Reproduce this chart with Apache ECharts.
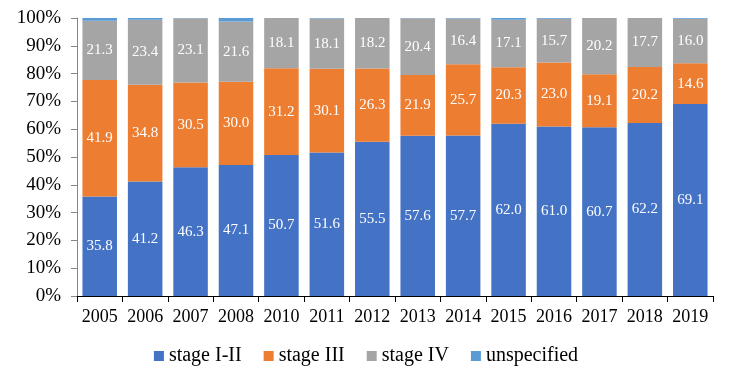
<!DOCTYPE html>
<html>
<head>
<meta charset="utf-8">
<script src="https://cdn.jsdelivr.net/npm/echarts@6/dist/echarts.min.js"></script>
<style>
html, body { margin: 0; padding: 0; background: #fff; }
#chart { width: 732px; height: 376px; }
</style>
</head>
<body>
<div id="chart"></div>
<script>
var years = ['2005', '2006', '2007', '2008', '2010', '2011', '2012', '2013', '2014', '2015', '2016', '2017', '2018', '2019'];
var stage12 = [35.8, 41.2, 46.3, 47.1, 50.7, 51.6, 55.5, 57.6, 57.7, 62.0, 61.0, 60.7, 62.2, 69.1];
var stage3 = [41.9, 34.8, 30.5, 30.0, 31.2, 30.1, 26.3, 21.9, 25.7, 20.3, 23.0, 19.1, 20.2, 14.6];
var stage4 = [21.3, 23.4, 23.1, 21.6, 18.1, 18.1, 18.2, 20.4, 16.4, 17.1, 15.7, 20.2, 17.7, 16.0];
var unspec = [1.0, 0.6, 0.1, 1.3, 0, 0.2, 0, 0.1, 0.2, 0.6, 0.3, 0, 0, 0.3];

var font = 'Liberation Serif';

function bar(name, data, color, showLabel) {
	return {
		name: name,
		type: 'bar',
		stack: 'total',
		barCategoryGap: '24%',
		data: data,
		itemStyle: { color: color },
		label: {
			show: showLabel,
			position: 'inside',
			color: '#fff',
			fontFamily: font,
			fontSize: 15,
			formatter: function (p) { return p.value.toFixed(1); }
		}
	};
}

var chart = echarts.init(document.getElementById('chart'));
chart.setOption({
	animation: false,
	textStyle: { fontFamily: font },
	grid: { left: 77, right: 19, top: 18, bottom: 80 },
	legend: {
		top: 341,
		left: 'center',
		itemWidth: 10,
		itemHeight: 10,
		itemGap: 22,
		icon: 'rect',
		textStyle: { fontFamily: font, fontSize: 20, color: '#000' },
		data: ['stage I-II', 'stage III', 'stage IV', 'unspecified']
	},
	xAxis: {
		type: 'category',
		data: years,
		axisLine: { lineStyle: { color: '#000' } },
		axisTick: { show: true, length: 6, lineStyle: { color: '#000' } },
		axisLabel: { color: '#000', fontSize: 18, fontFamily: font, margin: 12, interval: 0, hideOverlap: false }
	},
	yAxis: {
		type: 'value',
		min: 0,
		max: 100,
		interval: 10,
		splitLine: { show: false },
		axisLine: { show: true, lineStyle: { color: '#868686' } },
		axisTick: { show: true, length: 6, lineStyle: { color: '#868686' } },
		axisLabel: { color: '#000', fontSize: 19, fontFamily: font, margin: 16, formatter: '{value}%' }
	},
	series: [
		bar('stage I-II', stage12, '#4472C4', true),
		bar('stage III', stage3, '#ED7D31', true),
		bar('stage IV', stage4, '#A5A5A5', true),
		bar('unspecified', unspec, '#5B9BD5', false)
	]
});
</script>
</body>
</html>
